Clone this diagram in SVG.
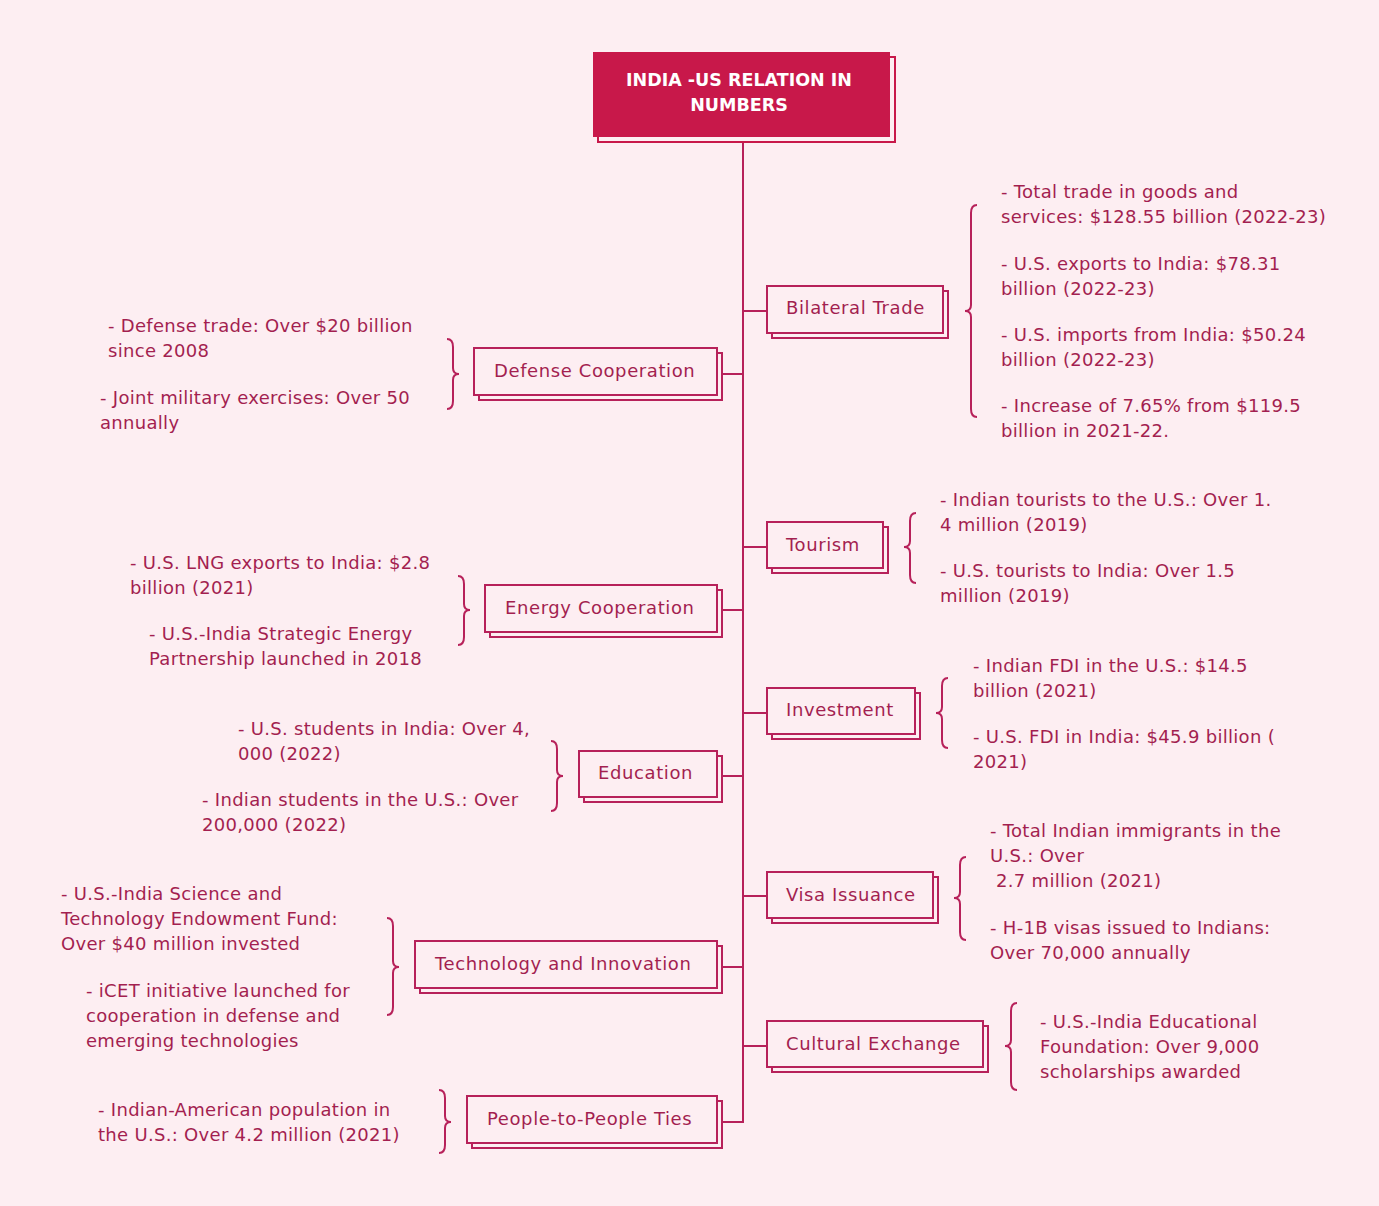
<svg xmlns="http://www.w3.org/2000/svg" width="1379" height="1206" viewBox="0 0 1379 1206">
<style>
.bg{fill:#fdeef2}
.ln{fill:none;stroke:#b7215a;stroke-width:2}
.box{fill:#fdeef2;stroke:#b7215a;stroke-width:2}
.lbl{font-family:"DejaVu Sans",sans-serif;font-size:18px;letter-spacing:0.6px;fill:#a31f50}
.txt{font-family:"DejaVu Sans",sans-serif;font-size:18px;letter-spacing:0.3px;fill:#a31f50}
.ttl{font-family:"DejaVu Sans",sans-serif;font-size:17.5px;font-weight:bold;fill:#ffffff}
</style>
<rect class="bg" x="0" y="0" width="1379" height="1206"/>
<g id="connectors">
<line class="ln" x1="743" y1="140" x2="743" y2="1123"/>
<line class="ln" x1="743" y1="311" x2="767" y2="311"/>
<line class="ln" x1="722" y1="374" x2="743" y2="374"/>
<line class="ln" x1="743" y1="547" x2="767" y2="547"/>
<line class="ln" x1="722" y1="610" x2="743" y2="610"/>
<line class="ln" x1="743" y1="713" x2="767" y2="713"/>
<line class="ln" x1="722" y1="776" x2="743" y2="776"/>
<line class="ln" x1="743" y1="896" x2="767" y2="896"/>
<line class="ln" x1="722" y1="967" x2="743" y2="967"/>
<line class="ln" x1="743" y1="1046" x2="767" y2="1046"/>
<line class="ln" x1="722" y1="1122" x2="743" y2="1122"/>
</g>
<g id="title">
<rect x="598" y="57" width="297" height="85" fill="#fdeef2" stroke="#c8184a" stroke-width="2"/>
<rect x="593" y="52" width="297" height="85" fill="#c8184a"/>
<text class="ttl" x="739" y="86" text-anchor="middle">INDIA -US RELATION IN</text>
<text class="ttl" x="739" y="111" text-anchor="middle">NUMBERS</text>
</g>
<g id="bilateral-trade">
<rect class="box" x="772" y="291" width="176" height="47"/>
<rect class="box" x="767" y="286" width="176" height="47"/>
<text class="lbl" x="786" y="314">Bilateral Trade</text>
<path class="ln" d="M977,205 Q971,205 971,213 L971,305 Q971,311 965,311 Q971,311 971,317 L971,409 Q971,417 977,417"/>
<text class="txt" x="1001" y="198">- Total trade in goods and</text>
<text class="txt" x="1001" y="223">services: $128.55 billion (2022-23)</text>
<text class="txt" x="1001" y="270">- U.S. exports to India: $78.31</text>
<text class="txt" x="1001" y="295">billion (2022-23)</text>
<text class="txt" x="1001" y="341">- U.S. imports from India: $50.24</text>
<text class="txt" x="1001" y="366">billion (2022-23)</text>
<text class="txt" x="1001" y="412">- Increase of 7.65% from $119.5</text>
<text class="txt" x="1001" y="437">billion in 2021-22.</text>
</g>
<g id="defense-cooperation">
<rect class="box" x="479" y="353" width="243" height="47"/>
<rect class="box" x="474" y="348" width="243" height="47"/>
<text class="lbl" x="494" y="377">Defense Cooperation</text>
<path class="ln" d="M447,339 Q453,339 453,347 L453,368 Q453,374 459,374 Q453,374 453,380 L453,401 Q453,409 447,409"/>
<text class="txt" x="108" y="332">- Defense trade: Over $20 billion</text>
<text class="txt" x="108" y="357">since 2008</text>
<text class="txt" x="100" y="404">- Joint military exercises: Over 50</text>
<text class="txt" x="100" y="429">annually</text>
</g>
<g id="tourism">
<rect class="box" x="772" y="527" width="116" height="46"/>
<rect class="box" x="767" y="522" width="116" height="46"/>
<text class="lbl" x="786" y="551">Tourism</text>
<path class="ln" d="M916,513 Q910,513 910,521 L910,541 Q910,547 904,547 Q910,547 910,553 L910,575 Q910,583 916,583"/>
<text class="txt" x="940" y="506">- Indian tourists to the U.S.: Over 1.</text>
<text class="txt" x="940" y="531">4 million (2019)</text>
<text class="txt" x="940" y="577">- U.S. tourists to India: Over 1.5</text>
<text class="txt" x="940" y="602">million (2019)</text>
</g>
<g id="energy-cooperation">
<rect class="box" x="490" y="590" width="232" height="47"/>
<rect class="box" x="485" y="585" width="232" height="47"/>
<text class="lbl" x="505" y="614">Energy Cooperation</text>
<path class="ln" d="M458,576 Q464,576 464,584 L464,604 Q464,610 470,610 Q464,610 464,616 L464,637 Q464,645 458,645"/>
<text class="txt" x="130" y="569">- U.S. LNG exports to India: $2.8</text>
<text class="txt" x="130" y="594">billion (2021)</text>
<text class="txt" x="149" y="640">- U.S.-India Strategic Energy</text>
<text class="txt" x="149" y="665">Partnership launched in 2018</text>
</g>
<g id="investment">
<rect class="box" x="772" y="693" width="148" height="46"/>
<rect class="box" x="767" y="688" width="148" height="46"/>
<text class="lbl" x="786" y="716">Investment</text>
<path class="ln" d="M948,678 Q942,678 942,686 L942,707 Q942,713 936,713 Q942,713 942,719 L942,740 Q942,748 948,748"/>
<text class="txt" x="973" y="672">- Indian FDI in the U.S.: $14.5</text>
<text class="txt" x="973" y="697">billion (2021)</text>
<text class="txt" x="973" y="743">- U.S. FDI in India: $45.9 billion (</text>
<text class="txt" x="973" y="768">2021)</text>
</g>
<g id="education">
<rect class="box" x="584" y="756" width="138" height="46"/>
<rect class="box" x="579" y="751" width="138" height="46"/>
<text class="lbl" x="598" y="779">Education</text>
<path class="ln" d="M551,741 Q557,741 557,749 L557,770 Q557,776 563,776 Q557,776 557,782 L557,803 Q557,811 551,811"/>
<text class="txt" x="238" y="735">- U.S. students in India: Over 4,</text>
<text class="txt" x="238" y="760">000 (2022)</text>
<text class="txt" x="202" y="806">- Indian students in the U.S.: Over</text>
<text class="txt" x="202" y="831">200,000 (2022)</text>
</g>
<g id="visa-issuance">
<rect class="box" x="772" y="877" width="166" height="46"/>
<rect class="box" x="767" y="872" width="166" height="46"/>
<text class="lbl" x="786" y="901">Visa Issuance</text>
<path class="ln" d="M966,857 Q960,857 960,865 L960,892 Q960,898 954,898 Q960,898 960,904 L960,932 Q960,940 966,940"/>
<text class="txt" x="990" y="837">- Total Indian immigrants in the</text>
<text class="txt" x="990" y="862">U.S.: Over</text>
<text class="txt" x="990" y="887" xml:space="preserve"> 2.7 million (2021)</text>
<text class="txt" x="990" y="934">- H-1B visas issued to Indians:</text>
<text class="txt" x="990" y="959">Over 70,000 annually</text>
</g>
<g id="technology-and-innovation">
<rect class="box" x="420" y="946" width="302" height="47"/>
<rect class="box" x="415" y="941" width="302" height="47"/>
<text class="lbl" x="435" y="970">Technology and Innovation</text>
<path class="ln" d="M387,918 Q393,918 393,926 L393,961 Q393,967 399,967 Q393,967 393,973 L393,1007 Q393,1015 387,1015"/>
<text class="txt" x="61" y="900">- U.S.-India Science and</text>
<text class="txt" x="61" y="925">Technology Endowment Fund:</text>
<text class="txt" x="61" y="950">Over $40 million invested</text>
<text class="txt" x="86" y="997">- iCET initiative launched for</text>
<text class="txt" x="86" y="1022">cooperation in defense and</text>
<text class="txt" x="86" y="1047">emerging technologies</text>
</g>
<g id="cultural-exchange">
<rect class="box" x="772" y="1026" width="216" height="46"/>
<rect class="box" x="767" y="1021" width="216" height="46"/>
<text class="lbl" x="786" y="1050">Cultural Exchange</text>
<path class="ln" d="M1017,1003 Q1011,1003 1011,1011 L1011,1040 Q1011,1046 1005,1046 Q1011,1046 1011,1052 L1011,1082 Q1011,1090 1017,1090"/>
<text class="txt" x="1040" y="1028">- U.S.-India Educational</text>
<text class="txt" x="1040" y="1053">Foundation: Over 9,000</text>
<text class="txt" x="1040" y="1078">scholarships awarded</text>
</g>
<g id="people-to-people-ties">
<rect class="box" x="472" y="1101" width="250" height="47"/>
<rect class="box" x="467" y="1096" width="250" height="47"/>
<text class="lbl" x="487" y="1125">People-to-People Ties</text>
<path class="ln" d="M439,1090 Q445,1090 445,1098 L445,1116 Q445,1122 451,1122 Q445,1122 445,1128 L445,1145 Q445,1153 439,1153"/>
<text class="txt" x="98" y="1116">- Indian-American population in</text>
<text class="txt" x="98" y="1141">the U.S.: Over 4.2 million (2021)</text>
</g>
</svg>
